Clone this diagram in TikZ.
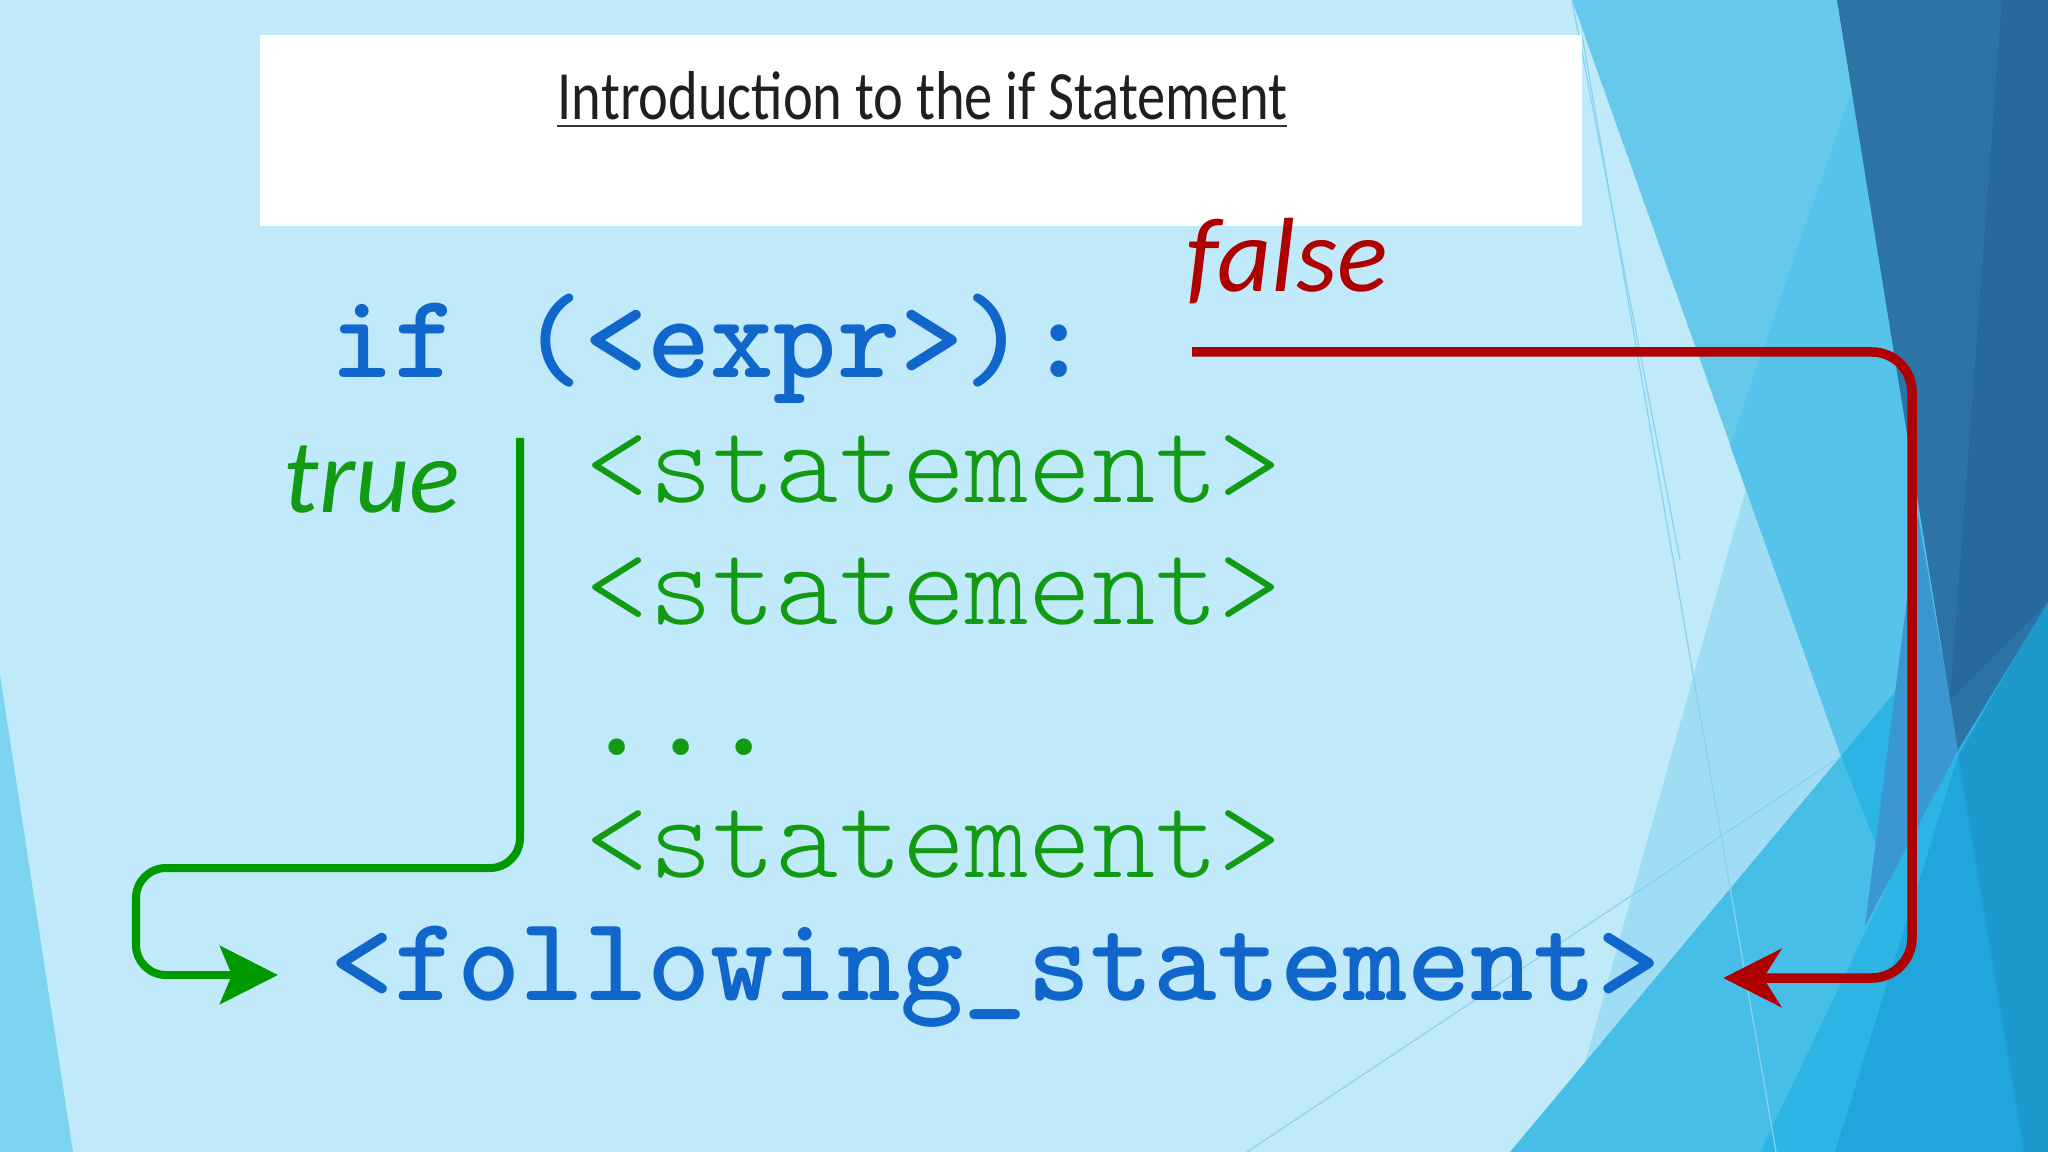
\documentclass[tikz,border=0pt]{standalone}
\usepackage{fontspec}
\usepackage{graphicx}
\newfontfamily\codefont{lmmonolt10}[Extension=.otf,UprightFont=*-regular,BoldFont=*-bold]
\newfontfamily\carl{Carlito}
\usetikzlibrary{arrows.meta}
\definecolor{bgbase}{HTML}{C0E9F9}
\definecolor{leftstrip}{HTML}{7DD4F0}
\definecolor{pale}{HTML}{9EDDF4}
\definecolor{med}{HTML}{66C9EC}
\definecolor{medtwo}{HTML}{56C4EA}
\definecolor{bone}{HTML}{47BEE8}
\definecolor{btwo}{HTML}{2CB4E4}
\definecolor{bthree}{HTML}{21A6DB}
\definecolor{bfour}{HTML}{1D99CC}
\definecolor{qblue}{HTML}{3A97D1}
\definecolor{darkb}{HTML}{2C73A6}
\definecolor{darkbtwo}{HTML}{26699D}
\definecolor{thinl}{HTML}{86D3EF}
\definecolor{codeblue}{HTML}{1166CC}
\definecolor{codegreen}{HTML}{139A13}
\definecolor{arrowgreen}{HTML}{009A00}
\definecolor{arrowred}{HTML}{AF0000}
\begin{document}
\begin{tikzpicture}[x=0.01cm,y=-0.01cm,
  bluecode/.style={anchor=base west,inner sep=0pt,text=codeblue,font=\fontsize{34.3}{40}\selectfont\codefont\bfseries},
  greencode/.style={anchor=base west,inner sep=0pt,text=codegreen,font=\fontsize{34.3}{40}\selectfont\codefont},
  label/.style={anchor=base west,inner sep=0pt,font=\fontsize{30}{36}\selectfont\carl\itshape},
  thinline/.style={draw=thinl,line width=0.012cm},
  garrow/.style={draw=arrowgreen,line width=0.08cm,rounded corners=0.3cm,-{Stealth[length=0.58cm,width=0.58cm,inset=0.12cm]}},
  rarrow/.style={draw=arrowred,line width=0.095cm,rounded corners=0.4cm,-{Stealth[length=0.58cm,width=0.58cm,inset=0.18cm]}}]
\useasboundingbox (0,0) rectangle (2048,1152);
% background facets
\fill[bgbase] (0,0) rectangle (2048,1152);
\fill[leftstrip] (0,675) -- (73,1152) -- (0,1152) -- cycle;
\fill[pale] (1883,0) -- (1560,1152) -- (2048,1152) -- (2048,0) -- cycle;
\fill[med] (1572,0) -- (1982,1152) -- (2048,1152) -- (2048,0) -- cycle;
\fill[medtwo] (1730,445) -- (1883,0) -- (2048,0) -- (2048,1152) -- (1982,1152) -- cycle;
\fill[bone] (1510,1152) -- (1841,756) -- (1890,880) -- (1760,1152) -- cycle;
\fill[btwo] (1760,1152) -- (1890,880) -- (1841,756) -- (1920,662) -- (2048,600) -- (2048,1152) -- cycle;
\fill[bthree] (1835,1152) -- (1958,756) -- (2048,600) -- (2048,1152) -- cycle;
\fill[bfour] (1958,756) -- (2048,600) -- (2048,1152) -- (2024,1152) -- cycle;
\fill[qblue] (1918,514) -- (1958,750) -- (1865,926) -- cycle;
\fill[darkb] (1837,0) -- (2048,0) -- (2048,602) -- (1958,750) -- cycle;
\fill[darkbtwo] (2002,0) -- (2048,0) -- (2048,602) -- (1950,700) -- cycle;
\draw[thinline] (1582,35) -- (1776,1152);
\draw[thinline] (1572,0) -- (1680,560);
\draw[thinline] (1247,1152) -- (1841,756);
% title box
\fill[white] (260,35) rectangle (1582,226);
\node[anchor=base west,inner sep=0pt,text=black!88] (title) at (557,120)
  {\resizebox{7.29cm}{0.48cm}{\carl Introduction to the if Statement}};
\draw[black!80,line width=0.025cm] (557,126) -- (1287,126);
% code
\node[bluecode] (ifline) at (330,378) {if (<expr>):};
\node[greencode] (s1) at (585,502) {<statement>};
\node[greencode] (s2) at (585,624) {<statement>};
\node[bluecode,text=codegreen] (dots) at (585,755) {...};
\node[greencode] (s3) at (585,877) {<statement>};
\node[bluecode] (follow) at (330,1000) {<following\_statement>};
\node[label,text=codegreen] (truelbl) at (283,512) {true};
\node[label,text=arrowred] (falselbl) at (1186,292) {false};
% connectors
\coordinate (gstart) at (520,438);
\coordinate (rstart) at (1192,352);
\coordinate (gtip) at ([shift={(-52,-25)}]follow.base west);
\coordinate (rtip) at ([shift={(62,-22)}]follow.base east);
\draw[garrow] (gstart) -- (520,868) -- (136,868) -- (136,975) -- (gtip);
\draw[rarrow] (rstart) -- (1912,352) -- (1912,978) -- (rtip);
\end{tikzpicture}
\end{document}
